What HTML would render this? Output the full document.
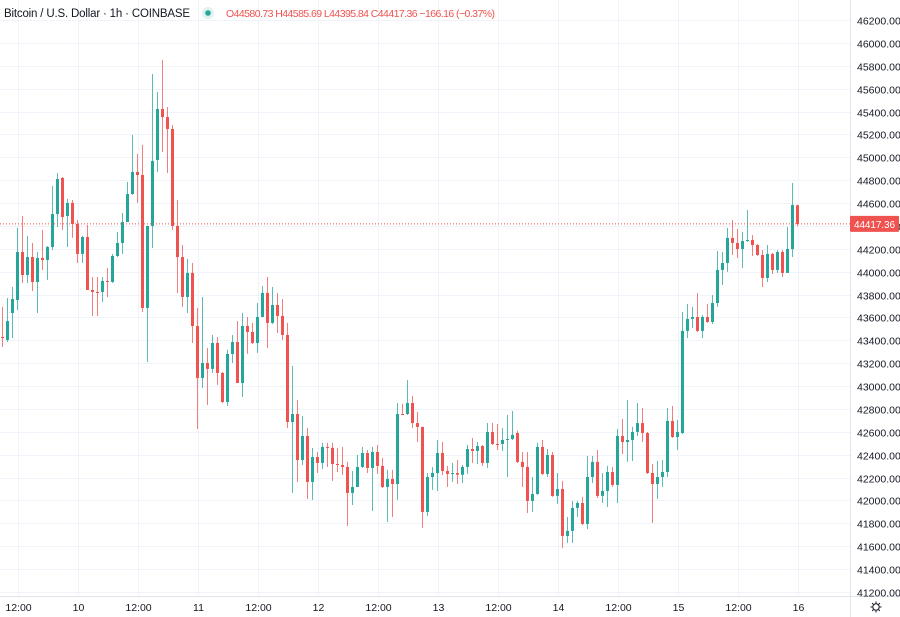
<!DOCTYPE html>
<html><head><meta charset="utf-8"><style>
html,body{margin:0;padding:0;background:#fff;}
svg{display:block;font-family:"Liberation Sans",sans-serif;}
</style></head><body>
<svg id="chart" width="900" height="617" viewBox="0 0 900 617" xmlns="http://www.w3.org/2000/svg">
<rect x="0" y="0" width="900" height="617" fill="#fff"/>
<g id="grid"></g>
<g id="candles"></g>
<line x1="0" y1="224" x2="850" y2="224" id="lastline" stroke="#ef5350" stroke-width="1" stroke-dasharray="1,2"/>
<line x1="850.5" y1="0" x2="850.5" y2="617" stroke="#e0e3eb"/>
<line x1="0" y1="596.5" x2="900" y2="596.5" stroke="#e0e3eb"/>
<g id="yaxis"></g>
<g id="xaxis"></g>
<g id="lastlabel"></g>
<g>
<text x="4" y="17" font-size="11.5" fill="#131722" textLength="186">Bitcoin / U.S. Dollar · 1h · COINBASE</text>
<circle cx="208" cy="13" r="6" fill="#e0f2ef"/>
<circle cx="208" cy="13" r="2.8" fill="#26a69a"/>
<text x="226" y="17" font-size="10.5" fill="#ef5350" textLength="269">O44580.73 H44585.69 L44395.84 C44417.36 −166.16 (−0.37%)</text>
</g>
<g transform="translate(876,607)" fill="none" stroke="#131722" stroke-width="1">
<circle r="3.2"/>
<path d="M0,-5.5V-3.6M0,3.6V5.5M-5.5,0H-3.6M3.6,0H5.5M-3.9,-3.9L-2.6,-2.6M2.6,2.6L3.9,3.9M-3.9,3.9L-2.6,2.6M2.6,-2.6L3.9,-3.9"/>
</g>
</svg>
<script>
const opens=[43429,43403,43639,43752,44172,43971,44128,43910,44120,44102,44216,44504,44819,44487,44601,44417,44155,44303,43840,43823,43823,43919,43910,44137,44251,44434,44679,44872,44845,43683,
44400,44976,45422,45352,45247,44400,44128,43779,43989,43525,43071,43202,43150,43377,43115,42861,43281,43385,43027,43525,43473,43377,43604,43814,43552,43709,43613,43447,42686,42756,
42354,42564,42162,42380,42328,42468,42460,42319,42310,42293,42066,42118,42293,42415,42284,42424,42302,42118,42188,42144,42756,42756,42852,42677,42643,41900,42205,42240,42415,42258,
42232,42240,42225,42293,42450,42433,42476,42328,42599,42494,42494,42529,42538,42590,42337,42293,41996,42057,42468,42232,42398,42040,42100,41690,41734,41935,41978,41795,42205,42337,
42040,42083,42249,42136,42564,42511,42529,42599,42677,42590,42240,42144,42205,42249,42695,42555,42590,43482,43587,43604,43482,43604,43560,43726,44015,44076,44295,44251,44198,44268,
44277,44233,44146,43945,44155,44015,44172,43989,44198,44580.73];
const highs=[43692,43770,43866,44382,44487,44312,44251,44172,44365,44225,44749,44863,44828,44636,44627,44452,44313,44408,43954,43954,43954,44032,44155,44347,44513,44784,45195,45029,45108,44400,
45728,45571,45851,45440,45282,44627,44233,44111,44076,43683,43779,43333,43447,43429,43123,43316,43447,43569,43639,43604,43552,43726,43875,43954,43866,43814,43761,43552,43176,42878,
42739,42634,42459,42424,42503,42503,42503,42459,42468,42337,42258,42398,42468,42441,42468,42485,42372,42267,42267,42852,42844,43053,42914,42774,42643,42240,42293,42529,42511,42302,
42328,42354,42310,42485,42546,42511,42485,42677,42677,42669,42634,42747,42782,42608,42424,42424,42205,42503,42529,42450,42424,42240,42171,41856,41996,41996,42031,42389,42389,42441,
42240,42302,42293,42625,42713,42878,42643,42852,42809,42599,42319,42345,42354,42809,42826,42704,43648,43718,43692,43814,43622,43718,43796,44181,44172,44382,44452,44373,44347,44539,
44321,44242,44190,44233,44163,44190,44190,44391,44775,44585.69];
const lows=[43342,43385,43420,43665,43901,43901,43831,43639,44015,43928,44190,44391,44365,44216,44295,44076,44076,43840,43613,43613,43735,43779,43901,44128,44155,44434,44670,44601,43648,43211,
44207,44872,45046,44863,44365,43814,43692,43639,43377,42625,42983,42835,43115,43010,42852,42826,43202,43027,42905,43281,43367,43290,43604,43333,43543,43464,43403,42634,42066,42162,
42310,42013,42005,42240,42275,42293,42171,42249,42223,41777,41961,42118,42284,42240,41908,42232,42109,41812,41856,42005,42747,42747,42634,42511,41760,41865,42092,42083,42223,42118,
42162,42144,42153,42232,42328,42319,42302,42284,42485,42441,42433,42205,42529,42328,42118,41891,41900,42048,42223,42205,42031,41970,41585,41629,41629,41856,41786,41751,42153,42022,
41978,41943,42118,41978,42406,42337,42345,42564,42511,42232,41803,42013,42118,42205,42546,42441,42580,43420,43508,43473,43420,43552,43543,43692,43884,43998,44146,44120,44032,44260,
44137,44137,43866,43910,43980,43989,43954,43989,44128,44395.84];
const closes=[43420,43569,43761,44172,43971,44128,43910,44120,44102,44216,44504,44810,44478,44601,44417,44155,44303,43840,43823,43814,43919,43910,44137,44251,44434,44679,44872,44845,43683,44400,
44968,45422,45352,45247,44400,44128,43779,43989,43525,43071,43202,43150,43377,43115,42861,43281,43385,43027,43525,43473,43377,43604,43814,43552,43709,43613,43447,42686,42756,42354,
42564,42162,42380,42328,42468,42460,42319,42310,42293,42066,42118,42293,42415,42284,42424,42302,42118,42188,42144,42756,42750,42852,42677,42643,41900,42205,42240,42415,42258,42232,
42240,42225,42293,42450,42433,42476,42328,42599,42494,42490,42529,42538,42573,42337,42293,41996,42057,42468,42232,42398,42040,42100,41690,41734,41935,41978,41795,42205,42337,42040,
42083,42249,42136,42564,42511,42529,42599,42677,42590,42240,42144,42205,42249,42695,42555,42599,43482,43587,43604,43482,43604,43560,43726,44015,44076,44295,44251,44198,44268,44277,
44233,44146,43945,44155,44015,44172,43989,44198,44583,44417.36];
const priceTicks=[46200,46000,45800,45600,45400,45200,45000,44800,44600,44400,44200,44000,43800,43600,43400,43200,43000,42800,42600,42400,42200,42000,41800,41600,41400,41200];
const timeTickIndex=[3,15,27,39,51,63,75,87,99,111,123,135,147,159];
const timeTickLabels=["12:00","10","12:00","11","12:00","12","12:00","13","12:00","14","12:00","15","12:00","16"];
const lastPrice=44417.36;

const NS="http://www.w3.org/2000/svg";
function yScale(p){return 20+(46200-p)/200*22.88;}
function xScale(i){return 2.5+5*i;}
function mk(tag,attrs,parent){const e=document.createElementNS(NS,tag);for(const k in attrs)e.setAttribute(k,attrs[k]);parent.appendChild(e);return e;}
const grid=document.getElementById('grid'),cg=document.getElementById('candles'),ya=document.getElementById('yaxis'),xa=document.getElementById('xaxis');
priceTicks.forEach(p=>{
  const y=Math.round(yScale(p))+0.5;
  const l=mk('line',{x1:0,x2:850,y1:y,y2:y,stroke:'#f0f3fa'},grid);
  
  
  const t=mk('text',{x:857,y:y+4,'font-size':'10.5',fill:'#131722'},ya);
  t.textContent=p.toFixed(2);
  
  
});
timeTickIndex.forEach((ix,k)=>{
  const x=Math.round(xScale(ix))+0.5;
  const l=mk('line',{x1:x,x2:x,y1:0,y2:596,stroke:'#f0f3fa'},grid);
  
  
  const t=mk('text',{x:x,y:611,'font-size':'10.5',fill:'#131722','text-anchor':'middle'},xa);
  t.textContent=timeTickLabels[k];
  
  
});
for(let i=0;i<closes.length;i++){
  const up=closes[i]>=opens[i];const col=up?'#26a69a':'#ef5350';
  const x=xScale(i);
  const g=mk('g',{},cg);
  
  
  const w=mk('line',{x1:x,x2:x,y1:yScale(highs[i]),y2:yScale(lows[i]),stroke:col,'stroke-width':1,opacity:0.75},g);
  
  
  const yt=yScale(Math.max(opens[i],closes[i])),yb=yScale(Math.min(opens[i],closes[i]));
  const b=mk('rect',{x:x-1.5,y:yt,width:3,height:Math.max(1,yb-yt),fill:col},g);
  
  
}
const ly=yScale(lastPrice);
document.getElementById('lastline').setAttribute('y1',ly);
document.getElementById('lastline').setAttribute('y2',ly);
const lg=document.getElementById('lastlabel');
const lr=mk('rect',{x:850,y:ly-8,width:49,height:16,fill:'#ef5350',rx:1},lg);


const lt=mk('text',{x:854,y:ly+4,'font-size':'10',fill:'#fff',textLength:'41'},lg);
lt.textContent=lastPrice.toFixed(2);


</script>
</body></html>
